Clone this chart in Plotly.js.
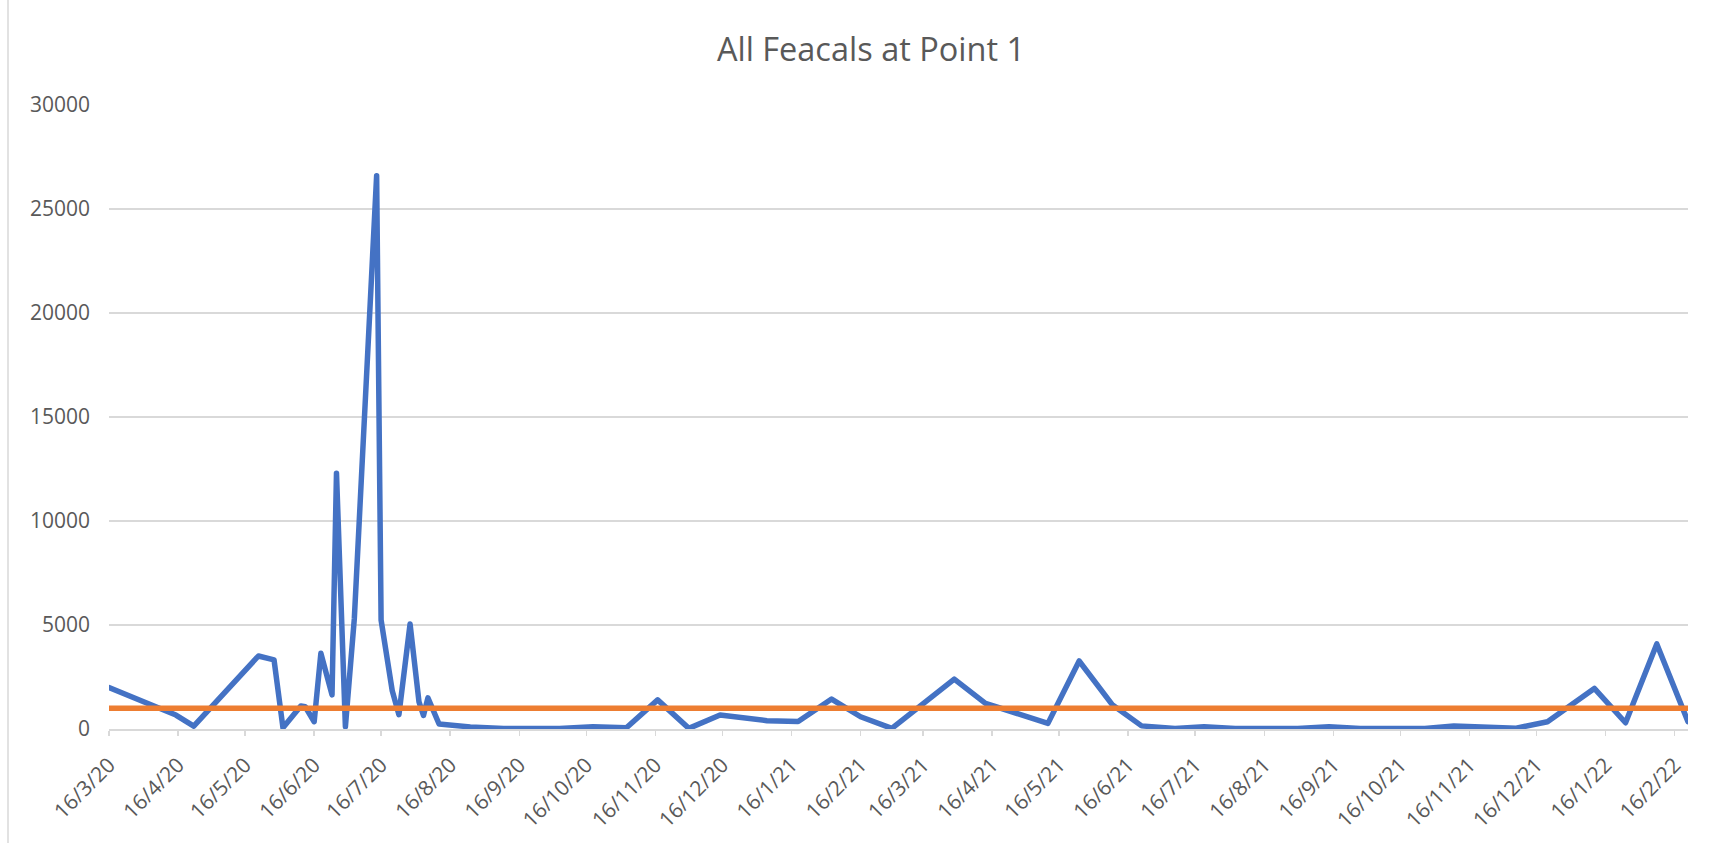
<!DOCTYPE html>
<html>
<head>
<meta charset="utf-8">
<script src="https://cdn.plot.ly/plotly-3.0.1.min.js"></script>
<style>
  html, body { margin: 0; padding: 0; background: #ffffff; }
  #chart { width: 1734px; height: 843px; }
  #chart path.js-line { stroke-linejoin: round !important; stroke-linecap: round !important; }
</style>
</head>
<body>
<div id="chart"></div>
<script>
// Sample dates and all-faecal counts at Point 1
const sampleDates = [
  '2020-03-16','2020-04-15','2020-04-23','2020-05-22','2020-05-29','2020-06-02',
  '2020-06-10','2020-06-12','2020-06-16','2020-06-19','2020-06-24','2020-06-26',
  '2020-06-30','2020-07-04','2020-07-14','2020-07-16','2020-07-21','2020-07-24',
  '2020-07-29','2020-08-02','2020-08-04','2020-08-06','2020-08-11','2020-08-25',
  '2020-09-09','2020-10-04','2020-10-19','2020-11-03','2020-11-17','2020-12-01',
  '2020-12-15','2021-01-05','2021-01-19','2021-02-03','2021-02-16','2021-03-02',
  '2021-03-30','2021-04-13','2021-05-11','2021-05-25','2021-06-09','2021-06-22',
  '2021-07-07','2021-07-20','2021-08-03','2021-08-31','2021-09-14','2021-09-28',
  '2021-10-27','2021-11-09','2021-12-07','2021-12-21','2022-01-11','2022-01-25',
  '2022-02-08','2022-02-22'
];
const faecalValues = [
  1990, 670, 140, 3510, 3320, 60,
  1110, 1070, 350, 3640, 1640, 12300,
  110, 5300, 26600, 5240, 1840, 690,
  5050, 1300, 650, 1500, 240, 100,
  30, 30, 110, 60, 1400, 30,
  670, 400, 360, 1440, 590, 30,
  2400, 1235, 270, 3270, 1150, 150,
  30, 110, 30, 30, 110, 30,
  30, 140, 40, 350, 1950, 300,
  4090, 350
];

// Limit line
const limitDates = ['2020-03-16', '2022-02-22'];
const limitValues = [1000, 1000];

// X-axis ticks (monthly, on the 16th)
const tickDates = [
  '2020-03-16','2020-04-16','2020-05-16','2020-06-16','2020-07-16','2020-08-16',
  '2020-09-16','2020-10-16','2020-11-16','2020-12-16','2021-01-16','2021-02-16',
  '2021-03-16','2021-04-16','2021-05-16','2021-06-16','2021-07-16','2021-08-16',
  '2021-09-16','2021-10-16','2021-11-16','2021-12-16','2022-01-16','2022-02-16'
];
const tickLabels = [
  '16/3/20','16/4/20','16/5/20','16/6/20','16/7/20','16/8/20',
  '16/9/20','16/10/20','16/11/20','16/12/20','16/1/21','16/2/21',
  '16/3/21','16/4/21','16/5/21','16/6/21','16/7/21','16/8/21',
  '16/9/21','16/10/21','16/11/21','16/12/21','16/1/22','16/2/22'
];
const yTickVals = [0, 5000, 10000, 15000, 20000, 25000, 30000];
const yTickText = ['0', '5000', '10000', '15000', '20000', '25000', '30000'];

const FONT = 'Open Sans, Noto Sans, sans-serif';
const TEXT = '#595959';
const GRID = '#D9D9D9';

const traces = [
  {
    x: sampleDates, y: faecalValues, type: 'scatter', mode: 'lines',
    line: { color: '#4472C4', width: 5.5 }, name: 'All Feacals', hoverinfo: 'x+y'
  },
  {
    x: limitDates, y: limitValues, type: 'scatter', mode: 'lines',
    line: { color: '#ED7D31', width: 5.5 }, name: 'Limit', hoverinfo: 'x+y'
  }
];

const layout = {
  width: 1734, height: 843,
  paper_bgcolor: '#ffffff', plot_bgcolor: '#ffffff',
  margin: { l: 109, r: 46, t: 105, b: 114, pad: 0 },
  showlegend: false,
  title: {
    text: 'All Feacals at Point 1',
    font: { family: FONT, size: 32.5, color: TEXT },
    x: 0.5023, xref: 'container', xanchor: 'center',
    y: 1 - 50 / 843, yref: 'container', yanchor: 'middle'
  },
  xaxis: {
    type: 'date',
    range: ['2020-03-16', '2022-02-22'],
    tickmode: 'array', tickvals: tickDates, ticktext: tickLabels,
    tickangle: -45,
    tickfont: { family: FONT, size: 21, color: TEXT },
    ticks: 'outside', ticklen: 5, tickwidth: 1.5, tickcolor: GRID,
    ticklabelstandoff: 9,
    showline: true, linecolor: GRID, linewidth: 1.5,
    showgrid: false, zeroline: false, fixedrange: true
  },
  yaxis: {
    range: [0, 30000],
    tickmode: 'array', tickvals: yTickVals, ticktext: yTickText,
    tickfont: { family: FONT, size: 21, color: TEXT },
    ticks: '', ticklabelstandoff: 18,
    showgrid: true, gridcolor: GRID, gridwidth: 1.5,
    showline: false, zeroline: false, fixedrange: true
  },
  shapes: [
    { type: 'line', xref: 'paper', yref: 'paper',
      x0: (8 - 109) / 1579, x1: (8 - 109) / 1579, y0: -114 / 624, y1: 729 / 624,
      line: { color: GRID, width: 1.5 } }
  ]
};

Plotly.newPlot('chart', traces, layout, { displayModeBar: false, staticPlot: true });
</script>
</body>
</html>
